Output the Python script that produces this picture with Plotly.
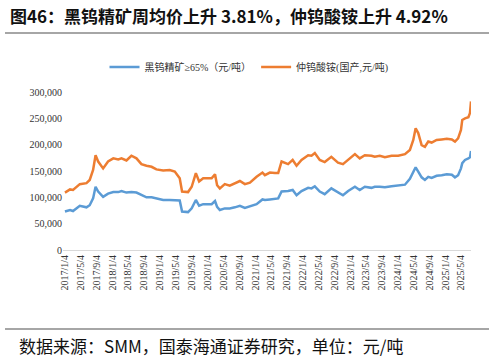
import plotly.graph_objects as go

dates = ["2017-01-04","2017-02-12","2017-03-07","2017-04-28","2017-06-18","2017-07-13","2017-08-08","2017-08-27",
 "2017-09-16","2017-10-24","2017-12-01","2018-01-10","2018-02-17","2018-03-14","2018-04-21","2018-05-29",
 "2018-07-07","2018-08-14","2018-09-22","2018-10-31","2018-12-07","2019-01-28","2019-03-19","2019-04-27",
 "2019-06-04","2019-06-22","2019-08-07","2019-09-04","2019-10-06","2019-10-31","2019-12-01","2020-02-04",
 "2020-03-01","2020-03-17","2020-04-07","2020-05-15","2020-06-22","2020-07-31","2020-09-08","2020-10-16",
 "2020-11-24","2021-01-14","2021-02-28","2021-03-19","2021-04-26","2021-06-04","2021-06-29","2021-07-25",
 "2021-08-19","2021-09-13","2021-10-18","2021-11-17","2021-12-25","2022-02-14","2022-03-12","2022-04-06",
 "2022-05-14","2022-06-21","2022-08-11","2022-10-01","2022-11-08","2022-12-18","2023-02-08","2023-03-17",
 "2023-04-25","2023-06-15","2023-07-10","2023-08-18","2023-09-26","2023-11-16","2024-01-06","2024-02-27",
 "2024-04-05","2024-05-01","2024-05-19","2024-06-08","2024-07-04","2024-07-29","2024-08-24","2024-09-19",
 "2024-10-27","2024-12-05","2025-01-13","2025-02-21","2025-03-17","2025-04-10","2025-05-02","2025-05-12",
 "2025-06-02","2025-06-28","2025-07-10","2025-07-18"]

ore_price = [73,76,74,84,81,85,98,120,111,101,107,110,110,112,109,110,
 109,104,100,100,98,95,95,95,94,73,72,79,95,84,87,87,
 93,82,76,79,79,81,84,80,83,87,96,95,96,97,98,111,
 111,112,114,104,112,118,117,121,111,106,117,110,104,112,120,114,
 120,118,120,120,119,121,122,124,135,150,157,149,138,133,139,137,
 141,142,144,143,138,142,155,165,171,174,176,188]

apt_price = [109,115,114,125,127,133,152,180,168,155,168,174,172,174,170,179,
 174,163,160,158,153,151,152,149,136,111,110,120,146,130,136,136,
 144,123,117,125,122,127,131,125,128,139,147,142,147,146,146,168,
 165,163,171,160,171,180,179,184,171,167,177,166,163,171,182,174,
 180,179,177,179,176,179,179,182,190,209,231,222,199,196,206,204,
 209,210,211,210,206,212,228,247,250,252,260,282]

ore_price = [v * 1000 for v in ore_price]
apt_price = [v * 1000 for v in apt_price]

tick_dates = ["2017-01-04","2017-05-04","2017-09-04","2018-01-04","2018-05-04","2018-09-04","2019-01-04",
 "2019-05-04","2019-09-04","2020-01-04","2020-05-04","2020-09-04","2021-01-04","2021-05-04","2021-09-04",
 "2022-01-04","2022-05-04","2022-09-04","2023-01-04","2023-05-04","2023-09-04","2024-01-04","2024-05-04",
 "2024-09-04","2025-01-04","2025-05-04"]
tick_text = [d[:4] + "/" + str(int(d[5:7])) + "/" + str(int(d[8:])) for d in tick_dates]

y_ticks = [0, 50000, 100000, 150000, 200000, 250000, 300000]
y_text = ["0", "50,000", "100,000", "150,000", "200,000", "250,000", "300,000"]

serif = "Liberation Serif"

fig = go.Figure()
fig.add_trace(go.Scatter(x=dates, y=ore_price, mode="lines", name="黑钨精矿≥65%（元/吨）",
                         line=dict(color="#5B9BD5", width=2.5)))
fig.add_trace(go.Scatter(x=dates, y=apt_price, mode="lines", name="仲钨酸铵(国产,元/吨)",
                         line=dict(color="#ED7D31", width=2.5)))

L, R, T, B = 63, 23, 92, 109
W, H = 494, 359
pw, ph = W - L - R, H - T - B

def px(x):
    return (x - L) / pw

def py(y):
    return (H - B - y) / ph

fig.update_layout(
    width=W, height=H,
    margin=dict(l=L, r=R, t=T, b=B, autoexpand=False),
    paper_bgcolor="white", plot_bgcolor="white",
    showlegend=True,
    legend=dict(orientation="h", x=px(249), xanchor="center", y=py(67), yanchor="middle",
                font=dict(family="Liberation Serif, Noto Sans CJK SC", size=10, color="#333"),
                bgcolor="rgba(0,0,0,0)"),
    xaxis=dict(type="date", range=["2016-12-20", "2025-07-18"], tickmode="array",
               tickvals=tick_dates, ticktext=tick_text, tickangle=-90, automargin=False,
               tickfont=dict(family=serif, size=10, color="#333"),
               showgrid=False, showline=True, linecolor="#d9d9d9", linewidth=1,
               ticks="", zeroline=False),
    yaxis=dict(range=[0, 300000], tickmode="array", tickvals=y_ticks, ticktext=y_text,
               automargin=False,
               tickfont=dict(family=serif, size=10, color="#333"),
               showgrid=False, showline=False, zeroline=False, ticks="", ticklen=0),
    annotations=[
        dict(text="<b>图46：黑钨精矿周均价上升 3.81%，仲钨酸铵上升 4.92%</b>", xref="paper", yref="paper",
             x=px(8), y=py(15), xanchor="left", yanchor="middle", showarrow=False,
             font=dict(family="Noto Sans CJK SC", size=17, color="#111")),
        dict(text="数据来源：SMM，国泰海通证券研究，单位：元/吨", xref="paper", yref="paper",
             x=px(17), y=py(345), xanchor="left", yanchor="middle", showarrow=False,
             font=dict(family="Noto Sans CJK SC", size=17, color="#111")),
    ],
    shapes=[
        dict(type="line", xref="paper", yref="paper", x0=px(5), x1=px(489), y0=py(33), y1=py(33),
             line=dict(color="#888", width=1.5)),
        dict(type="line", xref="paper", yref="paper", x0=px(5), x1=px(489), y0=py(329), y1=py(329),
             line=dict(color="#888", width=1.5)),
    ],
)

fig.write_html("out.html", config={"displayModeBar": False},
               post_script="document.body.style.margin='0';document.body.style.overflow='hidden';")
